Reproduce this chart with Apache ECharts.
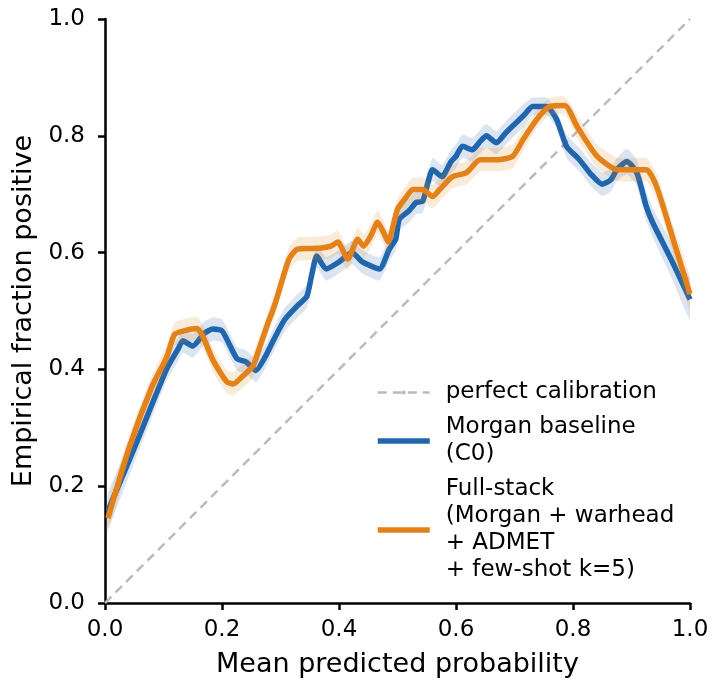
<!DOCTYPE html>
<html>
<head>
<meta charset="utf-8">
<script src="https://cdn.jsdelivr.net/npm/echarts@6/dist/echarts.min.js"></script>
<style>
  html, body { margin: 0; padding: 0; background: #fff; }
  #chart { width: 713px; height: 683px; }
</style>
</head>
<body>
<div id="chart"></div>
<script>
// reliability curves
const diagX = [0, 1]
const diagY = [0, 1]

const morganX = [0.005, 0.05, 0.105, 0.125, 0.133, 0.15, 0.17, 0.184, 0.2, 0.214, 0.226, 0.241, 0.258, 0.273, 0.288, 0.307, 0.33, 0.345, 0.353, 0.362, 0.378, 0.4, 0.422, 0.44, 0.469, 0.486, 0.497, 0.503, 0.52, 0.532, 0.543, 0.552, 0.56, 0.576, 0.591, 0.6, 0.611, 0.628, 0.641, 0.652, 0.669, 0.685, 0.696, 0.716, 0.731, 0.755, 0.772, 0.789, 0.811, 0.83, 0.85, 0.865, 0.875, 0.892, 0.909, 0.925, 0.936, 0.967, 1.0]
const morganY = [0.158, 0.265, 0.4, 0.435, 0.449, 0.44, 0.462, 0.469, 0.466, 0.44, 0.418, 0.413, 0.398, 0.42, 0.45, 0.485, 0.51, 0.525, 0.56, 0.594, 0.572, 0.584, 0.6, 0.584, 0.572, 0.606, 0.623, 0.657, 0.672, 0.686, 0.688, 0.72, 0.742, 0.73, 0.755, 0.765, 0.782, 0.776, 0.79, 0.8, 0.788, 0.805, 0.816, 0.835, 0.85, 0.85, 0.828, 0.782, 0.759, 0.735, 0.717, 0.725, 0.742, 0.756, 0.737, 0.68, 0.652, 0.59, 0.52]
const morganErr = [0.03, 0.025, 0.02, 0.02, 0.02, 0.02, 0.02, 0.02, 0.02, 0.02, 0.02, 0.02, 0.02, 0.02, 0.02, 0.02, 0.02, 0.02, 0.02, 0.02, 0.02, 0.02, 0.02, 0.02, 0.02, 0.02, 0.02, 0.02, 0.02, 0.02, 0.02, 0.02, 0.02, 0.02, 0.02, 0.02, 0.02, 0.02, 0.02, 0.02, 0.02, 0.02, 0.02, 0.02, 0.015, 0.015, 0.015, 0.02, 0.02, 0.02, 0.02, 0.02, 0.02, 0.022, 0.022, 0.025, 0.025, 0.03, 0.035]

const fullX = [0.005, 0.041, 0.08, 0.105, 0.119, 0.135, 0.157, 0.167, 0.185, 0.208, 0.219, 0.235, 0.253, 0.265, 0.277, 0.29, 0.305, 0.315, 0.329, 0.35, 0.37, 0.386, 0.398, 0.415, 0.432, 0.442, 0.455, 0.466, 0.476, 0.484, 0.5, 0.515, 0.526, 0.543, 0.56, 0.572, 0.594, 0.618, 0.641, 0.67, 0.697, 0.715, 0.738, 0.76, 0.786, 0.807, 0.841, 0.876, 0.909, 0.926, 0.943, 0.972, 1.0]
const fullY = [0.145, 0.265, 0.37, 0.42, 0.46, 0.466, 0.47, 0.457, 0.415, 0.379, 0.375, 0.388, 0.406, 0.44, 0.475, 0.51, 0.56, 0.59, 0.606, 0.607, 0.608, 0.611, 0.618, 0.589, 0.623, 0.611, 0.63, 0.652, 0.635, 0.618, 0.674, 0.695, 0.708, 0.708, 0.696, 0.708, 0.73, 0.737, 0.759, 0.759, 0.765, 0.794, 0.828, 0.85, 0.852, 0.816, 0.765, 0.742, 0.742, 0.742, 0.713, 0.62, 0.529]
const fullErr = [0.025, 0.022, 0.02, 0.02, 0.02, 0.02, 0.02, 0.02, 0.02, 0.02, 0.02, 0.02, 0.02, 0.02, 0.02, 0.02, 0.02, 0.02, 0.02, 0.02, 0.02, 0.02, 0.02, 0.02, 0.02, 0.02, 0.02, 0.02, 0.02, 0.02, 0.02, 0.02, 0.02, 0.02, 0.02, 0.02, 0.02, 0.02, 0.02, 0.02, 0.02, 0.02, 0.015, 0.015, 0.015, 0.02, 0.02, 0.02, 0.02, 0.02, 0.022, 0.025, 0.03]

const BLUE = '#2166ac'
const ORANGE = '#e3821a'
const FONT = 'DejaVu Sans'

const pairs = (xs, ys) => xs.map((x, i) => [x, ys[i]])

const band = (xs, ys, errs, color, z) => ({
  type: 'custom',
  silent: true,
  clip: true,
  z,
  data: [[0, 0]],
  renderItem: (params, api) => {
    const upper = xs.map((x, i) => api.coord([x, ys[i] + errs[i]]))
    const lower = xs.map((x, i) => api.coord([x, ys[i] - errs[i]])).reverse()
    return {
      type: 'polygon',
      shape: { points: upper.concat(lower), smooth: 0.15 },
      style: { fill: color, opacity: 0.17 }
    }
  }
})

const axisCommon = {
  type: 'value',
  min: 0,
  max: 1,
  interval: 0.2,
  axisLine: { show: true, onZero: false, lineStyle: { color: '#000', width: 2.5 } },
  axisTick: { show: true, length: 7, lineStyle: { color: '#000', width: 2.5 } },
  splitLine: { show: false },
  nameLocation: 'middle',
  nameTextStyle: { fontSize: 27, color: '#000', fontFamily: FONT }
}

const chart = echarts.init(document.getElementById('chart'))

chart.setOption({
  animation: false,
  grid: { left: 105, right: 23, top: 19, bottom: 79, containLabel: false },
  xAxis: {
    ...axisCommon,
    name: 'Mean predicted probability',
    nameGap: 48,
    axisLabel: { fontSize: 23, color: '#000', fontFamily: FONT, margin: 16, formatter: (v) => v.toFixed(1) }
  },
  yAxis: {
    ...axisCommon,
    name: 'Empirical fraction positive',
    nameGap: 58,
    axisLabel: { fontSize: 23, color: '#000', fontFamily: FONT, margin: 20, formatter: (v) => v.toFixed(1) }
  },
  legend: {
    orient: 'vertical',
    left: 370,
    top: 374,
    padding: 5,
    itemWidth: 52,
    itemHeight: 5,
    itemGap: 8,
    selectedMode: false,
    textStyle: { fontSize: 23, lineHeight: 27, color: '#000', fontFamily: FONT, padding: [0, 0, 0, 11] },
    data: [
      { name: 'perfect calibration', lineStyle: { width: 2.5, type: [9, 6], color: '#bbbbbb' } },
      { name: 'Morgan baseline\n(C0)', lineStyle: { width: 5.5, color: BLUE } },
      { name: 'Full-stack\n(Morgan + warhead\n+ ADMET\n+ few-shot k=5)', lineStyle: { width: 5.5, color: ORANGE } }
    ]
  },
  series: [
    {
      name: 'perfect calibration',
      type: 'line',
      data: pairs(diagX, diagY),
      symbol: 'none',
      z: 1,
      lineStyle: { color: '#bbbbbb', width: 2.5, type: [9, 6] },
      itemStyle: { color: '#bbbbbb' }
    },
    band(morganX, morganY, morganErr, BLUE, 2),
    {
      name: 'Morgan baseline\n(C0)',
      type: 'line',
      data: pairs(morganX, morganY),
      symbol: 'none',
      smooth: 0.2,
      z: 3,
      lineStyle: { color: BLUE, width: 5.5 },
      itemStyle: { color: BLUE }
    },
    band(fullX, fullY, fullErr, ORANGE, 4),
    {
      name: 'Full-stack\n(Morgan + warhead\n+ ADMET\n+ few-shot k=5)',
      type: 'line',
      data: pairs(fullX, fullY),
      symbol: 'none',
      smooth: 0.2,
      z: 5,
      lineStyle: { color: ORANGE, width: 5.5 },
      itemStyle: { color: ORANGE }
    }
  ]
})
</script>
</body>
</html>
